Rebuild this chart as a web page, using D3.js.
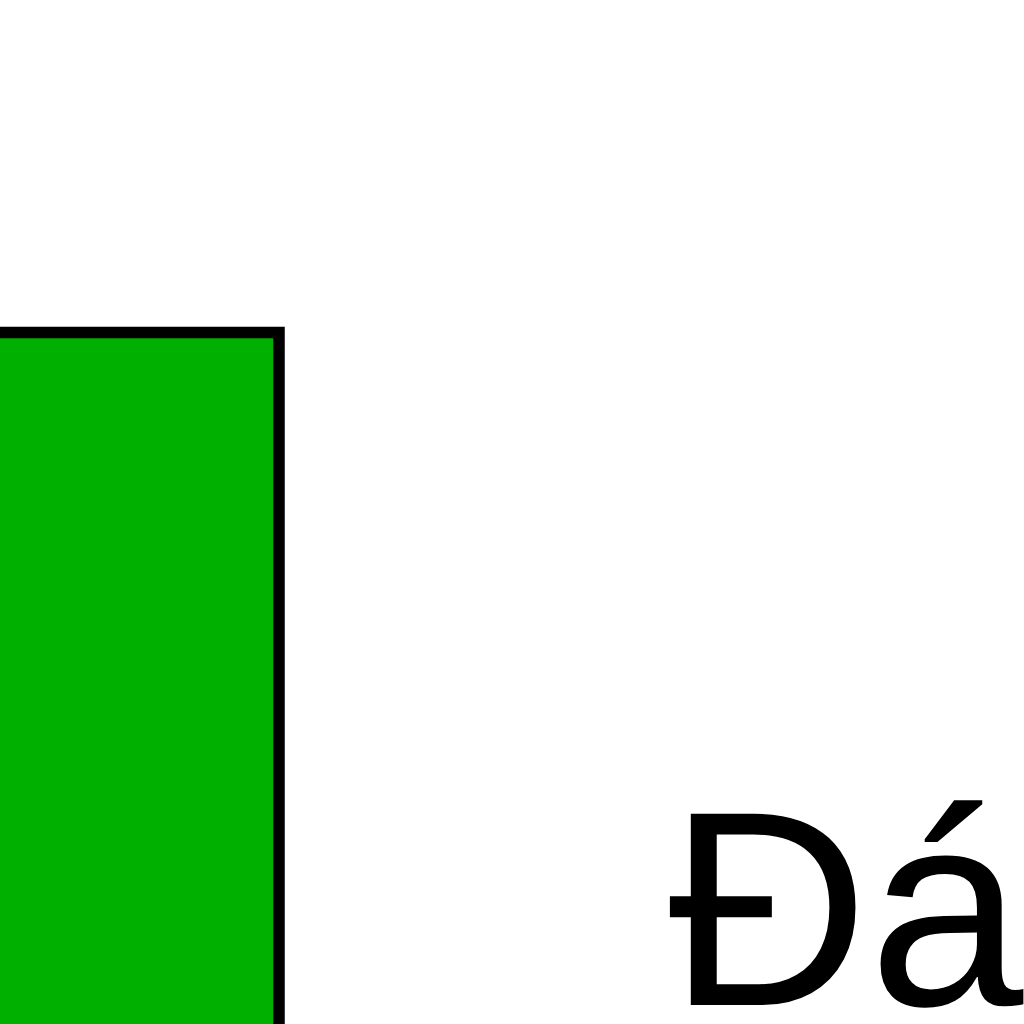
<!DOCTYPE html>
<html><head><meta charset="utf-8">
<script src="https://cdn.jsdelivr.net/npm/d3@7"></script>
<style>html,body{margin:0;padding:0;background:#fff;overflow:hidden}</style>
</head><body>
<svg id="c" width="1024" height="1024"></svg>
<script>
const categories = ["Cột"];
const values = [100];
const labels = ["Đánh giá"];

const svg = d3.select("#c");
const x = d3.scaleBand().domain(categories).range([-300, 279]).padding(0);
const y = d3.scaleLinear().domain([0, 100]).range([1332.5, 332.5]);

svg.selectAll("rect.bar").data(values).join("rect")
  .attr("class","bar")
  .attr("x",(d,i)=>x(categories[i]))
  .attr("width",x.bandwidth())
  .attr("y",d=>y(d))
  .attr("height",d=>y(0)-y(d))
  .attr("fill","#00b000")
  .attr("stroke","#000")
  .attr("stroke-width",11.5);

svg.selectAll("text.lbl").data(labels).join("text")
  .attr("class","lbl")
  .attr("x",668)
  .attr("y",1005)
  .attr("font-family","Liberation Sans")
  .attr("font-size",278)
  .attr("fill","#000")
  .text(d=>d);
</script>
</body></html>
